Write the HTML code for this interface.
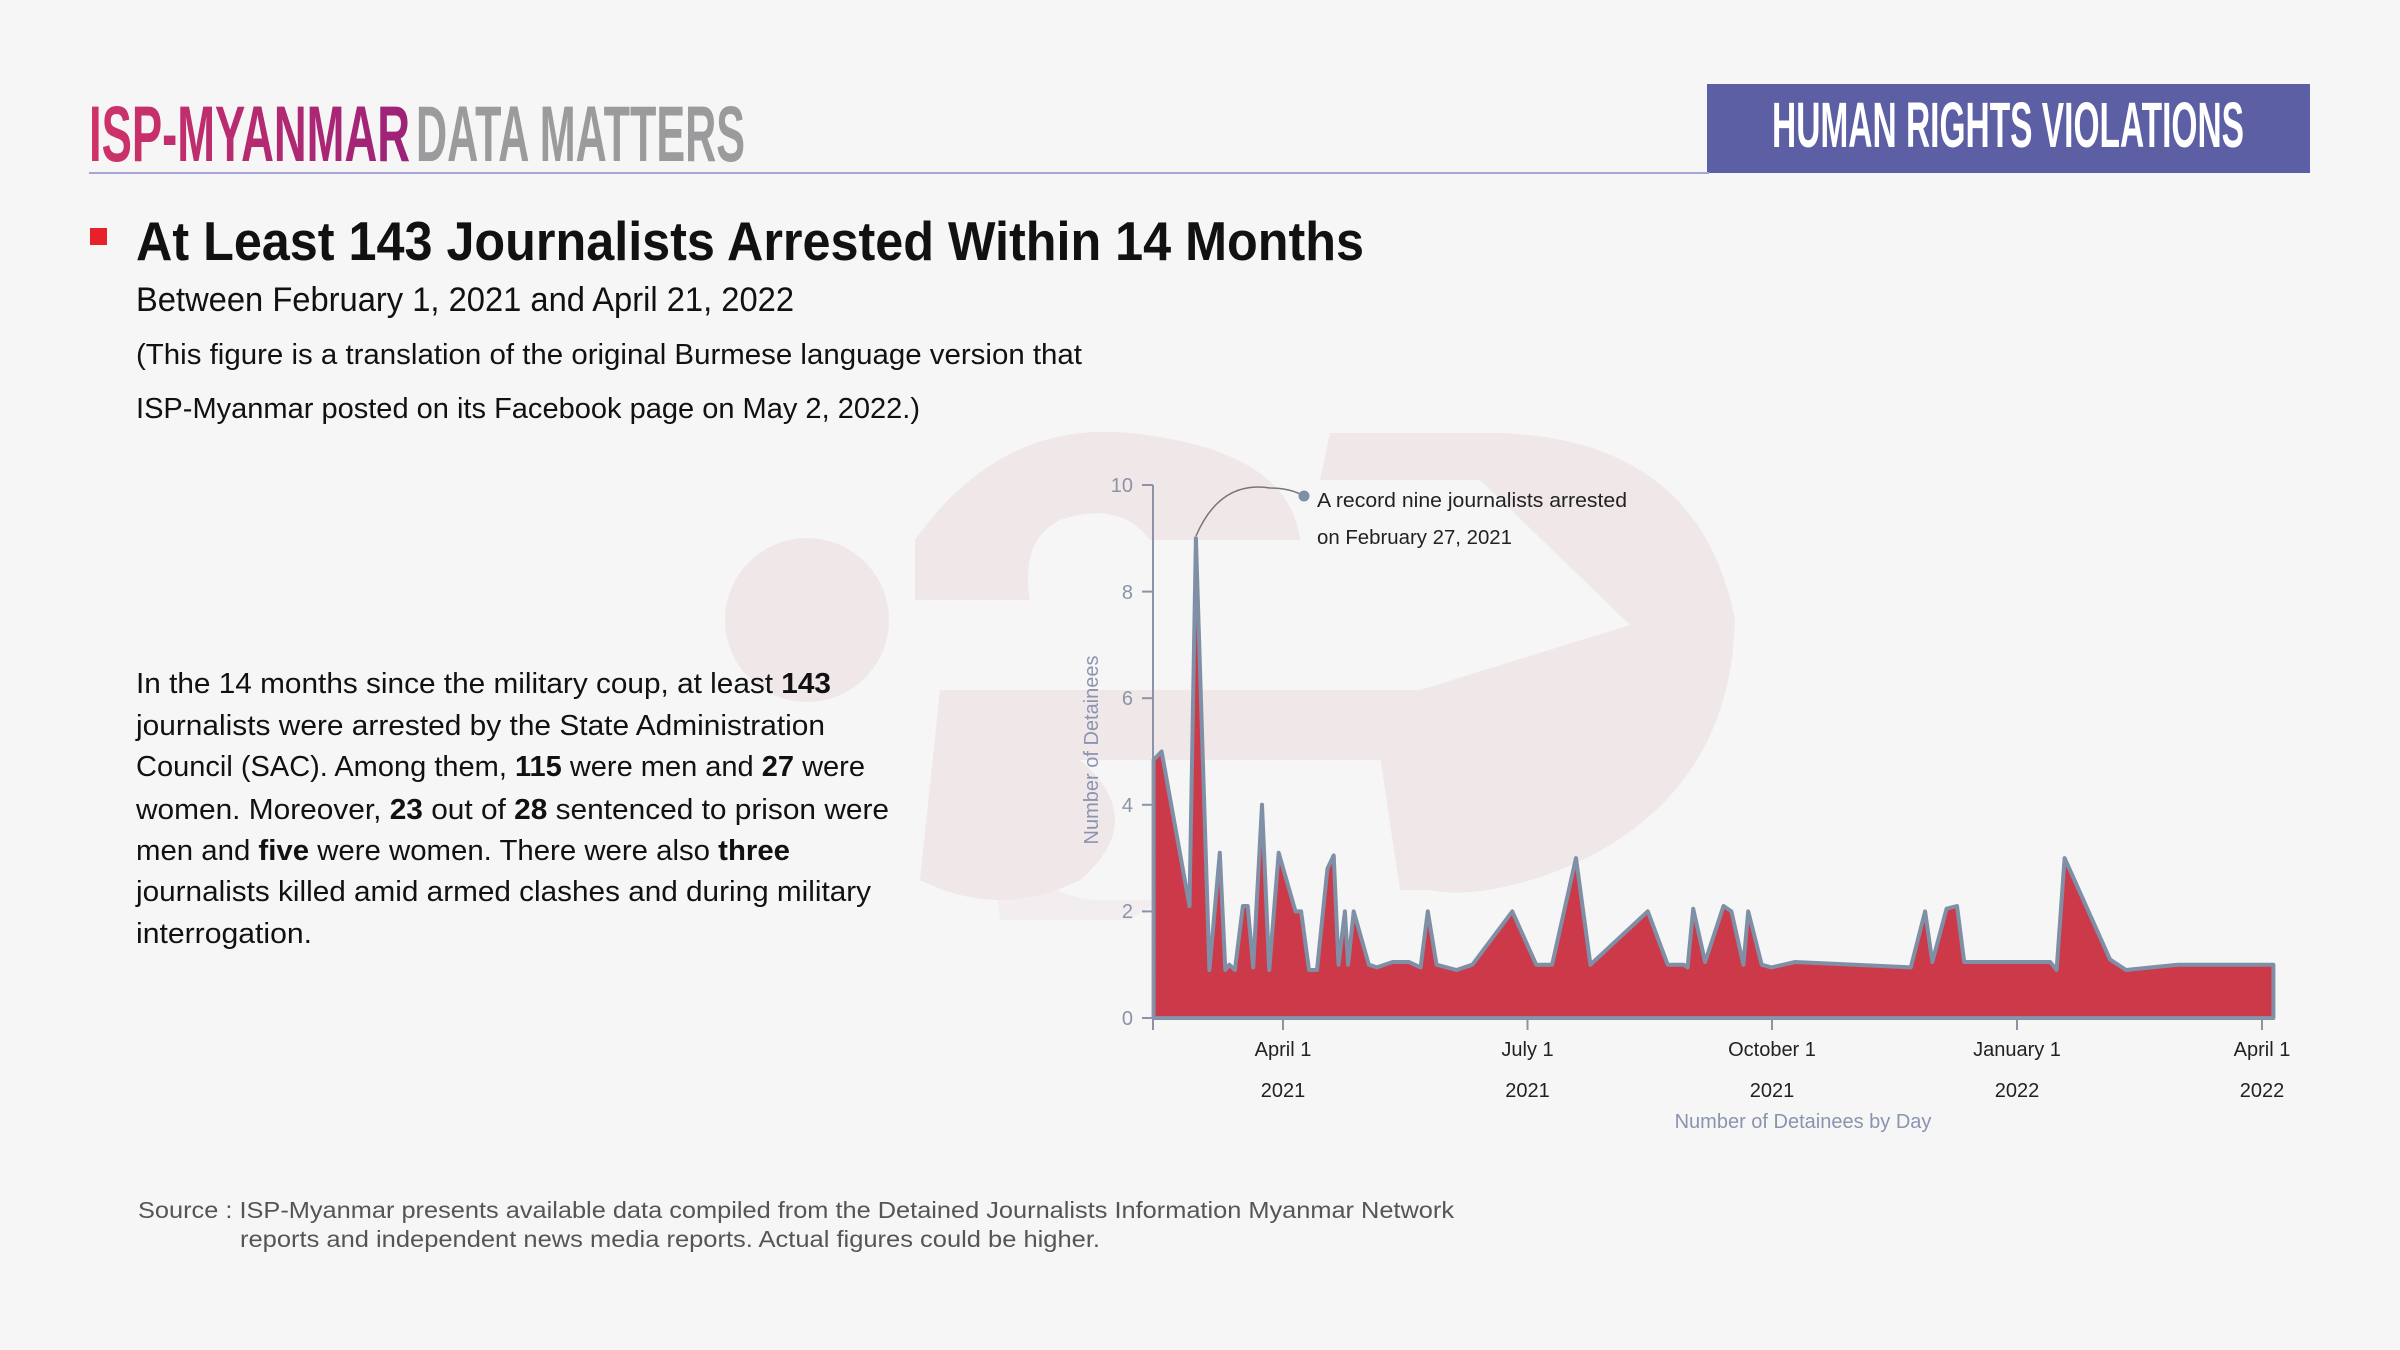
<!DOCTYPE html>
<html><head><meta charset="utf-8"><style>
html,body{margin:0;padding:0;background:#f5f6f5;}
svg{display:block;}
text{font-family:"Liberation Sans",sans-serif;}
</style></head><body>
<svg width="2400" height="1350" viewBox="0 0 2400 1350" xmlns="http://www.w3.org/2000/svg">
<rect width="2400" height="1350" fill="#f5f6f5"/>
<defs>
<linearGradient id="mg" x1="0" x2="1"><stop offset="0" stop-color="#cf3368"/><stop offset="1" stop-color="#9c2279"/></linearGradient>
</defs>
<!-- watermark -->
<g fill="#f0e7e9">
<circle cx="807" cy="620" r="82"/>
<path d="M915 540 Q1000 420 1130 433 Q1290 450 1300 540 L1150 540 Q1120 500 1060 520 Q1020 540 1030 600 L915 600 Z"/>
<path d="M940 690 L1450 690 L1440 760 L1080 760 Q1150 820 1080 880 Q1000 920 920 880 Z"/>
<path d="M1330 433 L1500 433 Q1700 440 1735 620 Q1730 800 1560 870 Q1480 900 1430 890 L1400 890 L1370 690 L1420 690 L1630 625 L1480 480 L1320 480 Z"/>
<path d="M990 830 Q1040 900 1100 900 L1160 900 L1130 920 L1000 920 Z" opacity="0.6"/>
</g>
<!-- header -->
<text x="89" y="161" font-size="79" font-weight="bold" fill="url(#mg)" textLength="321" lengthAdjust="spacingAndGlyphs">ISP-MYANMAR</text>
<text x="416" y="161" font-size="79" font-weight="bold" fill="#9b9b9d" textLength="329" lengthAdjust="spacingAndGlyphs">DATA MATTERS</text>
<rect x="1707" y="84" width="603" height="89" fill="#5c5fa4"/>
<text x="1772" y="147" font-size="64" font-weight="bold" fill="#ffffff" textLength="472" lengthAdjust="spacingAndGlyphs">HUMAN RIGHTS VIOLATIONS</text>
<rect x="89" y="172" width="1620" height="2" fill="#a9a5d6"/>
<!-- title -->
<rect x="90" y="228" width="17" height="17" fill="#e8202a"/>
<text x="136" y="260" font-size="55" font-weight="bold" fill="#111" textLength="1228" lengthAdjust="spacingAndGlyphs">At Least 143 Journalists Arrested Within 14 Months</text>
<text x="136" y="311" font-size="34" fill="#111" textLength="658" lengthAdjust="spacingAndGlyphs">Between February 1, 2021 and April 21, 2022</text>
<text x="136" y="364" font-size="29" fill="#111" textLength="946" lengthAdjust="spacingAndGlyphs">(This figure is a translation of the original Burmese language version that</text>
<text x="136" y="418" font-size="29" fill="#111" textLength="784" lengthAdjust="spacingAndGlyphs">ISP-Myanmar posted on its Facebook page on May 2, 2022.)</text>
<!-- paragraph -->
<g font-size="29" fill="#111">
<text x="136" y="693" textLength="695" lengthAdjust="spacingAndGlyphs">In the 14 months since the military coup, at least <tspan font-weight="bold">143</tspan></text>
<text x="136" y="735" textLength="689" lengthAdjust="spacingAndGlyphs">journalists were arrested by the State Administration</text>
<text x="136" y="776" textLength="729" lengthAdjust="spacingAndGlyphs">Council (SAC). Among them, <tspan font-weight="bold">115</tspan> were men and <tspan font-weight="bold">27</tspan> were</text>
<text x="136" y="819" textLength="753" lengthAdjust="spacingAndGlyphs">women. Moreover, <tspan font-weight="bold">23</tspan> out of <tspan font-weight="bold">28</tspan> sentenced to prison were</text>
<text x="136" y="860" textLength="654" lengthAdjust="spacingAndGlyphs">men and <tspan font-weight="bold">five</tspan> were women. There were also <tspan font-weight="bold">three</tspan></text>
<text x="136" y="901" textLength="735" lengthAdjust="spacingAndGlyphs">journalists killed amid armed clashes and during military</text>
<text x="136" y="943" textLength="176" lengthAdjust="spacingAndGlyphs">interrogation.</text>
</g>
<!-- source -->
<text x="138" y="1218" font-size="23" fill="#555" textLength="1316" lengthAdjust="spacingAndGlyphs">Source : ISP-Myanmar presents available data compiled from the Detained Journalists Information Myanmar Network</text>
<text x="240" y="1247" font-size="23" fill="#555" textLength="860" lengthAdjust="spacingAndGlyphs">reports and independent news media reports. Actual figures could be higher.</text>
<!-- chart -->
<path d="M1153.6 1018 L1153.6 760 L1161.6 751.5 L1189.5 906 L1195.9 538.3 L1209.4 970 L1219.8 852.8 L1225.3 970 L1229.3 964.7 L1234.9 970 L1242.9 906 L1247.7 906 L1253.2 967.4 L1262 804.8 L1269.2 970 L1278.7 852.8 L1295.5 911.4 L1301.1 911.4 L1309 970 L1317 970 L1327.4 868.8 L1333.7 855.4 L1338.5 964.7 L1344.9 911.4 L1348.1 964.7 L1353.7 911.4 L1368.8 964.7 L1376.8 967.4 L1392.7 962 L1408.7 962 L1420.6 967.4 L1427.8 911.4 L1436.5 964.7 L1456.5 970 L1472.4 964.7 L1512.3 911.4 L1536.2 964.7 L1552.1 964.7 L1576 858.1 L1590.4 964.7 L1647.8 911.4 L1667.7 964.7 L1683.6 964.7 L1687.6 967.4 L1693.2 908.7 L1705.1 962 L1723.5 906 L1731.4 911.4 L1743.4 964.7 L1748.2 911.4 L1761.7 964.7 L1771.3 967.4 L1795.2 962 L1910.8 967.4 L1925.1 911.4 L1932.3 962 L1946.6 908.7 L1957 906 L1964.2 962 L2050.2 962 L2056.6 970 L2064.6 858.1 L2110 959.4 L2126 970 L2177.8 964.7 L2273.4 964.7 L2273.4 1018 Z" fill="#cc3a4a" stroke="#7f8fa6" stroke-width="4" stroke-linejoin="round"/>
<g stroke="#8a94a6" stroke-width="2" fill="none">
<line x1="1153" y1="485" x2="1153" y2="1030"/>
<line x1="1153" y1="1018" x2="2275" y2="1018"/>
<line x1="1142" y1="1018" x2="1153" y2="1018"/>
<line x1="1142" y1="911.4" x2="1153" y2="911.4"/>
<line x1="1142" y1="804.8" x2="1153" y2="804.8"/>
<line x1="1142" y1="698.2" x2="1153" y2="698.2"/>
<line x1="1142" y1="591.6" x2="1153" y2="591.6"/>
<line x1="1142" y1="485" x2="1153" y2="485"/>
<line x1="1283" y1="1018" x2="1283" y2="1030"/>
<line x1="1527.5" y1="1018" x2="1527.5" y2="1030"/>
<line x1="1772" y1="1018" x2="1772" y2="1030"/>
<line x1="2017" y1="1018" x2="2017" y2="1030"/>
<line x1="2262" y1="1018" x2="2262" y2="1030"/>
</g>
<g font-size="20" fill="#8a94a6" text-anchor="end">
<text x="1133" y="1025">0</text><text x="1133" y="918">2</text><text x="1133" y="812">4</text>
<text x="1133" y="705">6</text><text x="1133" y="599">8</text><text x="1133" y="492">10</text>
</g>
<text transform="translate(1098,750) rotate(-90)" font-size="20" fill="#8a94b0" text-anchor="middle">Number of Detainees</text>
<g font-size="20" fill="#222" text-anchor="middle">
<text x="1283" y="1056">April 1</text><text x="1283" y="1097">2021</text>
<text x="1527.5" y="1056">July 1</text><text x="1527.5" y="1097">2021</text>
<text x="1772" y="1056">October 1</text><text x="1772" y="1097">2021</text>
<text x="2017" y="1056">January 1</text><text x="2017" y="1097">2022</text>
<text x="2262" y="1056">April 1</text><text x="2262" y="1097">2022</text>
</g>
<text x="1803" y="1128" font-size="20" fill="#8a94b0" text-anchor="middle">Number of Detainees by Day</text>
<!-- annotation -->
<path d="M1196 536 Q1220 480 1270 488 Q1290 488 1304 496" stroke="#777" stroke-width="1.5" fill="none"/>
<circle cx="1304" cy="496" r="5.5" fill="#7f8fa6"/>
<text x="1317" y="507" font-size="20" fill="#222" textLength="310" lengthAdjust="spacingAndGlyphs">A record nine journalists arrested</text>
<text x="1317" y="544" font-size="20" fill="#222" textLength="195" lengthAdjust="spacingAndGlyphs">on February 27, 2021</text>
</svg>
</body></html>
